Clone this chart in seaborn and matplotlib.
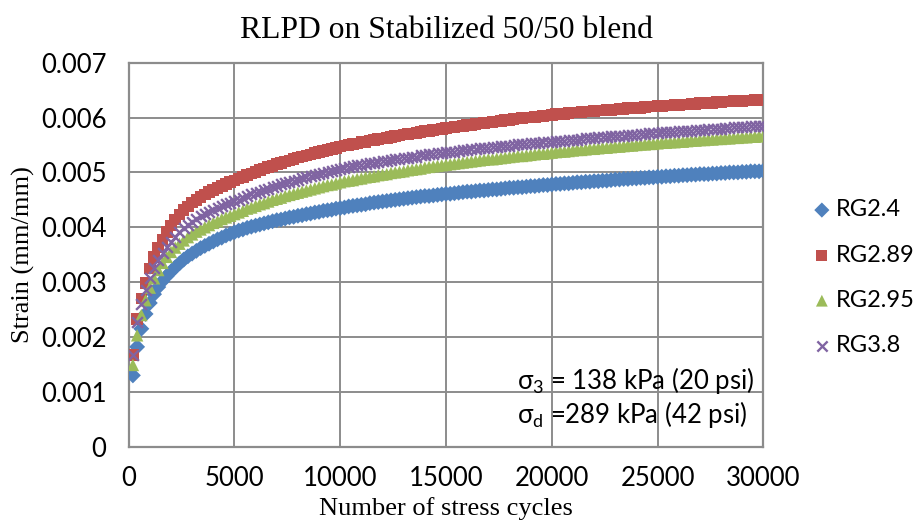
import matplotlib
matplotlib.use("Agg")
import matplotlib.pyplot as plt
import seaborn as sns
import numpy as np
import pandas as pd

# Load cycles at which strain was logged (every 200 cycles)
cycles = list(range(200, 30001, 200))

# Permanent strain, in units of 1e-3 mm/mm
rg24 = [
    1.30, 1.82, 2.15, 2.42, 2.62, 2.78, 2.91, 3.02, 3.11, 3.19,
    3.27, 3.34, 3.41, 3.47, 3.52, 3.57, 3.62, 3.66, 3.70, 3.74,
    3.78, 3.81, 3.85, 3.88, 3.91,
    3.94, 3.96, 3.99, 4.01, 4.03, 4.05, 4.07, 4.09, 4.11, 4.13,
    4.14, 4.16, 4.18, 4.19, 4.21, 4.22, 4.24, 4.25, 4.27, 4.28,
    4.30, 4.31, 4.32, 4.34, 4.35,
    4.36, 4.38, 4.39, 4.40, 4.41, 4.42, 4.44, 4.45, 4.46, 4.47,
    4.48, 4.49, 4.50, 4.51, 4.52, 4.53, 4.54, 4.55, 4.56, 4.57,
    4.57, 4.58, 4.59, 4.60, 4.61, 4.61, 4.62, 4.63, 4.64, 4.65,
    4.65, 4.66, 4.67, 4.67, 4.68, 4.69, 4.69, 4.70, 4.71, 4.72,
    4.72, 4.73, 4.73, 4.74, 4.75, 4.75, 4.76, 4.77, 4.77, 4.78,
    4.79, 4.79, 4.80, 4.80, 4.81, 4.82, 4.82, 4.83, 4.83, 4.84,
    4.84, 4.85, 4.85, 4.86, 4.87, 4.87, 4.88, 4.88, 4.89, 4.89,
    4.90, 4.90, 4.91, 4.91, 4.92, 4.92, 4.93, 4.93, 4.94, 4.94,
    4.95, 4.95, 4.96, 4.96, 4.97, 4.97, 4.97, 4.98, 4.98, 4.99,
    4.99, 5.00, 5.00, 5.00, 5.01, 5.01, 5.02, 5.02, 5.02, 5.03,
]
rg289 = [
    1.67, 2.33, 2.70, 2.98, 3.25, 3.46, 3.63, 3.78, 3.91, 4.03,
    4.14, 4.23, 4.31, 4.38, 4.45, 4.50, 4.55, 4.60, 4.64, 4.68,
    4.72, 4.75, 4.79, 4.82, 4.85,
    4.89, 4.92, 4.95, 4.98, 5.01, 5.04, 5.07, 5.10, 5.12, 5.15,
    5.17, 5.20, 5.22, 5.25, 5.27, 5.29, 5.31, 5.33, 5.35, 5.37,
    5.39, 5.41, 5.43, 5.45, 5.47,
    5.49, 5.50, 5.52, 5.53, 5.55, 5.56, 5.58, 5.59, 5.61, 5.62,
    5.63, 5.65, 5.66, 5.67, 5.69, 5.70, 5.71, 5.72, 5.74, 5.75,
    5.76, 5.77, 5.78, 5.79, 5.81, 5.82, 5.83, 5.84, 5.85, 5.86,
    5.87, 5.88, 5.89, 5.90, 5.91, 5.92, 5.93, 5.94, 5.95, 5.96,
    5.97, 5.98, 5.99, 6.00, 6.00, 6.01, 6.02, 6.03, 6.04, 6.05,
    6.06, 6.06, 6.07, 6.08, 6.09, 6.09, 6.10, 6.11, 6.11, 6.12,
    6.13, 6.13, 6.14, 6.14, 6.15, 6.16, 6.16, 6.17, 6.17, 6.18,
    6.18, 6.19, 6.20, 6.20, 6.21, 6.21, 6.22, 6.22, 6.23, 6.23,
    6.24, 6.24, 6.25, 6.25, 6.26, 6.26, 6.27, 6.27, 6.28, 6.28,
    6.29, 6.29, 6.30, 6.30, 6.30, 6.31, 6.31, 6.32, 6.32, 6.33,
]
rg295 = [
    1.49, 2.03, 2.40, 2.67, 2.90, 3.07, 3.22, 3.35, 3.46, 3.55,
    3.63, 3.70, 3.76, 3.82, 3.87, 3.92, 3.96, 4.00, 4.04, 4.08,
    4.11, 4.15, 4.18, 4.21, 4.24,
    4.27, 4.30, 4.34, 4.36, 4.39, 4.42, 4.44, 4.47, 4.50, 4.52,
    4.54, 4.57, 4.59, 4.61, 4.63, 4.65, 4.67, 4.69, 4.71, 4.73,
    4.75, 4.77, 4.78, 4.80, 4.82,
    4.84, 4.85, 4.86, 4.88, 4.89, 4.91, 4.92, 4.93, 4.95, 4.96,
    4.97, 4.99, 5.00, 5.01, 5.02, 5.04, 5.05, 5.06, 5.07, 5.09,
    5.10, 5.11, 5.12, 5.13, 5.14, 5.15, 5.16, 5.17, 5.18, 5.19,
    5.20, 5.21, 5.22, 5.23, 5.24, 5.24, 5.25, 5.26, 5.27, 5.28,
    5.29, 5.30, 5.30, 5.31, 5.32, 5.33, 5.34, 5.34, 5.35, 5.36,
    5.37, 5.38, 5.38, 5.39, 5.40, 5.41, 5.41, 5.42, 5.43, 5.43,
    5.44, 5.45, 5.45, 5.46, 5.47, 5.47, 5.48, 5.49, 5.49, 5.50,
    5.51, 5.51, 5.52, 5.52, 5.53, 5.54, 5.54, 5.55, 5.55, 5.56,
    5.56, 5.57, 5.58, 5.58, 5.59, 5.59, 5.60, 5.60, 5.61, 5.61,
    5.62, 5.62, 5.63, 5.63, 5.64, 5.64, 5.65, 5.65, 5.66, 5.66,
]
rg38 = [
    1.67, 2.28, 2.61, 2.86, 3.07, 3.25, 3.40, 3.53, 3.64, 3.74,
    3.83, 3.91, 3.98, 4.04, 4.10, 4.15, 4.20, 4.24, 4.28, 4.32,
    4.35, 4.39, 4.42, 4.45, 4.47,
    4.50, 4.53, 4.57, 4.60, 4.62, 4.65, 4.68, 4.70, 4.73, 4.75,
    4.78, 4.80, 4.82, 4.85, 4.87, 4.89, 4.91, 4.93, 4.95, 4.97,
    4.99, 5.01, 5.03, 5.05, 5.07,
    5.08, 5.10, 5.11, 5.13, 5.14, 5.15, 5.17, 5.18, 5.19, 5.20,
    5.21, 5.23, 5.24, 5.25, 5.26, 5.27, 5.28, 5.29, 5.31, 5.32,
    5.33, 5.34, 5.35, 5.36, 5.37, 5.37, 5.38, 5.39, 5.40, 5.41,
    5.42, 5.43, 5.44, 5.44, 5.45, 5.46, 5.47, 5.48, 5.48, 5.49,
    5.50, 5.51, 5.51, 5.52, 5.53, 5.54, 5.54, 5.55, 5.56, 5.56,
    5.57, 5.58, 5.58, 5.59, 5.60, 5.60, 5.61, 5.62, 5.62, 5.63,
    5.64, 5.64, 5.65, 5.66, 5.66, 5.67, 5.67, 5.68, 5.69, 5.69,
    5.70, 5.70, 5.71, 5.72, 5.72, 5.73, 5.73, 5.74, 5.74, 5.75,
    5.75, 5.76, 5.76, 5.77, 5.78, 5.78, 5.79, 5.79, 5.80, 5.80,
    5.81, 5.81, 5.82, 5.82, 5.83, 5.83, 5.84, 5.84, 5.85, 5.85,
]

series_names = ["RG2.4", "RG2.89", "RG2.95", "RG3.8"]
series_values = [rg24, rg289, rg295, rg38]
colors = ["#4F81BD", "#C0504D", "#9BBB59", "#8064A2"]
markers = ["D", "s", "^", "x"]
sizes = [66, 70, 80, 60]

xticks = [0, 5000, 10000, 15000, 20000, 25000, 30000]
yticks = [0, 0.001, 0.002, 0.003, 0.004, 0.005, 0.006, 0.007]
ytick_labels = ["0", "0.001", "0.002", "0.003", "0.004", "0.005", "0.006", "0.007"]

frames = []
for name, vals in zip(series_names, series_values):
    frames.append(pd.DataFrame({
        "cycles": cycles,
        "strain": np.asarray(vals) * 1e-3,
        "series": name,
    }))
df = pd.concat(frames, ignore_index=True)

sns.set_theme(style="white")
plt.rcParams["font.family"] = ["Lato", "DejaVu Sans"]
plt.rcParams["text.color"] = "black"
plt.rcParams["axes.labelcolor"] = "black"
plt.rcParams["mathtext.fontset"] = "custom"
plt.rcParams["mathtext.rm"] = "Lato"
plt.rcParams["mathtext.it"] = "Lato"
plt.rcParams["mathtext.fallback"] = "stixsans"

fig = plt.figure(figsize=(9.17, 5.27), dpi=100)
ax = fig.add_axes([0.1403, 0.1524, 0.8324 - 0.1403, 0.881 - 0.1524])

grid_color = "#8C8C8C"
for name, color, mk, sz in zip(series_names, colors, markers, sizes):
    sub = df[df["series"] == name]
    if mk == "x":
        sns.scatterplot(data=sub, x="cycles", y="strain", marker=mk, color=color,
                        s=sz, linewidth=1.7, ax=ax, label=name, zorder=3)
    else:
        sns.scatterplot(data=sub, x="cycles", y="strain", marker=mk, color=color,
                        s=sz, linewidth=0, edgecolor="none", ax=ax, label=name, zorder=3)

ax.set_xlim(0, 30000)
ax.set_ylim(0, 0.007)
ax.set_xticks(xticks)
ax.set_xticklabels([str(t) for t in xticks])
ax.set_yticks(yticks)
ax.set_yticklabels(ytick_labels)
ax.tick_params(axis="both", length=0, labelsize=18.5, colors="black")
ax.tick_params(axis="x", pad=14)
ax.tick_params(axis="y", pad=16)
ax.grid(True, color=grid_color, linewidth=1.4, zorder=0)
ax.set_axisbelow(True)
for sp in ax.spines.values():
    sp.set_color(grid_color)
    sp.set_linewidth(1.6)

serif = ["Liberation Serif", "DejaVu Serif"]
ax.set_title("RLPD on Stabilized 50/50 blend", family=serif, fontsize=22.8, pad=18,
             color="black")
ax.set_xlabel("Number of stress cycles", family=serif, fontsize=19, labelpad=4)
ax.set_ylabel("Strain (mm/mm)", family=serif, fontsize=19, labelpad=4)

ax.text(0.612, 0.172, r"$\mathrm{\sigma_3}$ = 138 kPa (20 psi)", transform=ax.transAxes,
        fontsize=18.5, ha="left", va="center")
ax.text(0.612, 0.085, r"$\mathrm{\sigma_d}$ =289 kPa (42 psi)", transform=ax.transAxes,
        fontsize=18.5, ha="left", va="center")

handles, labels = ax.get_legend_handles_labels()
ax.legend(handles, labels, loc="center left", bbox_to_anchor=(1.029, 0.44),
          frameon=False, fontsize=17, handletextpad=-0.11, handlelength=1.4,
          labelspacing=1.03, markerscale=0.95, borderaxespad=0.6)

fig.savefig("out.png", dpi=100, facecolor="white")
